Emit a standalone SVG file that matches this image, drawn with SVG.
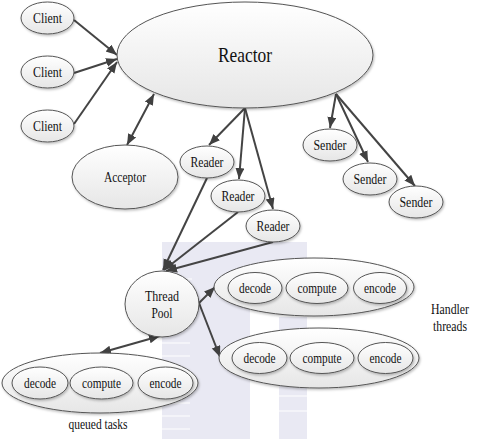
<svg xmlns="http://www.w3.org/2000/svg" width="493" height="439" viewBox="0 0 493 439">
<style>
.n{fill:url(#g);stroke:#555;stroke-width:1;filter:url(#sh)}
.t{font-family:"Liberation Serif","Times New Roman",serif;font-size:14px;fill:#111;text-anchor:middle}
.c{stroke:#444;stroke-width:2;fill:none;marker-end:url(#ah)}
.d{marker-start:url(#ahs)}
.wm{fill:#e9e9f3}
.ws{fill:#f4f4f9}
</style>
<defs>
<linearGradient id="g" x1="0" y1="0" x2="0" y2="1">
<stop offset="0" stop-color="#ffffff"/>
<stop offset="1" stop-color="#e6e6e6"/>
</linearGradient>
<filter id="sh" x="-10%" y="-10%" width="130%" height="130%">
<feDropShadow dx="1" dy="1.5" stdDeviation="1" flood-color="#000" flood-opacity="0.25"/>
</filter>
<marker id="ah" markerUnits="userSpaceOnUse" markerWidth="12" markerHeight="10" refX="11" refY="4.5" orient="auto">
<path d="M0,0 L11,4.5 L0,9 z" fill="#404040"/>
</marker>
<marker id="ahs" markerUnits="userSpaceOnUse" markerWidth="12" markerHeight="10" refX="11" refY="4.5" orient="auto-start-reverse">
<path d="M0,0 L11,4.5 L0,9 z" fill="#404040"/>
</marker>
</defs>
<rect width="493" height="439" fill="#fff"/>
<g id="watermark">
<rect class="wm" x="162" y="242" width="145" height="38"/>
<rect class="wm" x="162" y="242" width="88" height="197"/>
<rect class="wm" x="279" y="317" width="28" height="122"/>
<rect class="ws" x="162" y="278" width="30" height="2"/>
<rect class="ws" x="162" y="342" width="28" height="2"/>
<rect class="ws" x="162" y="355" width="28" height="2"/>
<rect class="ws" x="162" y="402" width="28" height="2"/>
<rect class="ws" x="162" y="415" width="28" height="2"/>
<rect class="ws" x="162" y="428" width="28" height="2"/>
<rect class="ws" x="279" y="395" width="28" height="2"/>
<rect class="ws" x="279" y="410" width="28" height="2"/>
</g>
<g id="connectors">
<path class="c" d="M74,20 L117,55"/>
<path class="c" d="M74,73 L117,59"/>
<path class="c" d="M74,124 L117,62"/>
<path class="c d" d="M127,145 L154,94"/>
<path class="c" d="M245,108 L209,145"/>
<path class="c" d="M245,108 L239,179"/>
<path class="c" d="M245,108 L273,209"/>
<path class="c" d="M336,94 L330,128"/>
<path class="c" d="M336,94 L368,162"/>
<path class="c" d="M336,94 L415,186"/>
<path class="c" d="M207,178 L163,270"/>
<path class="c" d="M238,212 L164,270"/>
<path class="c" d="M273,242 L166,271"/>
<path class="c" d="M199,303 L215,287"/>
<path class="c" d="M199,303 L220,357"/>
<path class="c d" d="M100,353 L160,336"/>
</g>
<g id="reactor"><ellipse class="n" cx="245" cy="55" rx="128" ry="53"/><text class="t" x="245" y="62" style="font-size:21px" textLength="54" lengthAdjust="spacingAndGlyphs">Reactor</text></g>
<g id="client1"><ellipse class="n" cx="47.5" cy="18" rx="26.5" ry="16"/><text class="t" x="47.5" y="23" textLength="29" lengthAdjust="spacingAndGlyphs">Client</text></g>
<g id="client2"><ellipse class="n" cx="47.5" cy="72" rx="26.5" ry="16"/><text class="t" x="47.5" y="77" textLength="29" lengthAdjust="spacingAndGlyphs">Client</text></g>
<g id="client3"><ellipse class="n" cx="47.5" cy="126" rx="26.5" ry="16"/><text class="t" x="47.5" y="131" textLength="29" lengthAdjust="spacingAndGlyphs">Client</text></g>
<g id="acceptor"><ellipse class="n" cx="125" cy="177" rx="53" ry="32"/><text class="t" x="125" y="182" textLength="42" lengthAdjust="spacingAndGlyphs">Acceptor</text></g>
<g id="reader1"><ellipse class="n" cx="207" cy="162" rx="27" ry="16"/><text class="t" x="207" y="167" textLength="33" lengthAdjust="spacingAndGlyphs">Reader</text></g>
<g id="reader2"><ellipse class="n" cx="238" cy="196" rx="27" ry="16"/><text class="t" x="238" y="201" textLength="33" lengthAdjust="spacingAndGlyphs">Reader</text></g>
<g id="reader3"><ellipse class="n" cx="273" cy="226" rx="27" ry="16"/><text class="t" x="273" y="231" textLength="33" lengthAdjust="spacingAndGlyphs">Reader</text></g>
<g id="sender1"><ellipse class="n" cx="330" cy="145" rx="27" ry="16"/><text class="t" x="330" y="150" textLength="33" lengthAdjust="spacingAndGlyphs">Sender</text></g>
<g id="sender2"><ellipse class="n" cx="370" cy="179" rx="27" ry="16"/><text class="t" x="370" y="184" textLength="33" lengthAdjust="spacingAndGlyphs">Sender</text></g>
<g id="sender3"><ellipse class="n" cx="416" cy="202" rx="27" ry="16"/><text class="t" x="416" y="207" textLength="33" lengthAdjust="spacingAndGlyphs">Sender</text></g>
<g id="threadpool"><ellipse class="n" cx="162" cy="304" rx="37" ry="33"/><text class="t" x="162" y="301" textLength="34" lengthAdjust="spacingAndGlyphs">Thread</text><text class="t" x="162" y="318" textLength="21" lengthAdjust="spacingAndGlyphs">Pool</text></g>
<g id="handler1">
<ellipse class="n" cx="314" cy="287" rx="100" ry="29"/>
<ellipse class="n" cx="255" cy="288" rx="27" ry="15.5"/><text class="t" x="255" y="293" textLength="32" lengthAdjust="spacingAndGlyphs">decode</text>
<ellipse class="n" cx="317" cy="288" rx="31" ry="15.5"/><text class="t" x="317" y="293" textLength="39" lengthAdjust="spacingAndGlyphs">compute</text>
<ellipse class="n" cx="380" cy="288" rx="26.5" ry="15.5"/><text class="t" x="380" y="293" textLength="32" lengthAdjust="spacingAndGlyphs">encode</text>
</g>
<g id="handler2">
<ellipse class="n" cx="319" cy="358" rx="100" ry="30"/>
<ellipse class="n" cx="259.5" cy="358" rx="27.5" ry="15.5"/><text class="t" x="259.5" y="363" textLength="32" lengthAdjust="spacingAndGlyphs">decode</text>
<ellipse class="n" cx="322" cy="358" rx="32" ry="15.5"/><text class="t" x="322" y="363" textLength="39" lengthAdjust="spacingAndGlyphs">compute</text>
<ellipse class="n" cx="385.5" cy="358" rx="27.5" ry="15.5"/><text class="t" x="385.5" y="363" textLength="32" lengthAdjust="spacingAndGlyphs">encode</text>
</g>
<g id="handler-label"><text class="t" x="450" y="314" textLength="38" lengthAdjust="spacingAndGlyphs">Handler</text><text class="t" x="450" y="331" textLength="34" lengthAdjust="spacingAndGlyphs">threads</text></g>
<g id="queued">
<ellipse class="n" cx="100" cy="383" rx="98" ry="30"/>
<ellipse class="n" cx="40" cy="383" rx="28" ry="16"/><text class="t" x="40" y="388" textLength="32" lengthAdjust="spacingAndGlyphs">decode</text>
<ellipse class="n" cx="101.5" cy="383" rx="31.5" ry="16"/><text class="t" x="101.5" y="388" textLength="39" lengthAdjust="spacingAndGlyphs">compute</text>
<ellipse class="n" cx="165.5" cy="383" rx="27.5" ry="16"/><text class="t" x="165.5" y="388" textLength="32" lengthAdjust="spacingAndGlyphs">encode</text>
</g>
<g id="queued-label"><text class="t" x="98" y="429" textLength="59" lengthAdjust="spacingAndGlyphs">queued tasks</text></g>
</svg>
